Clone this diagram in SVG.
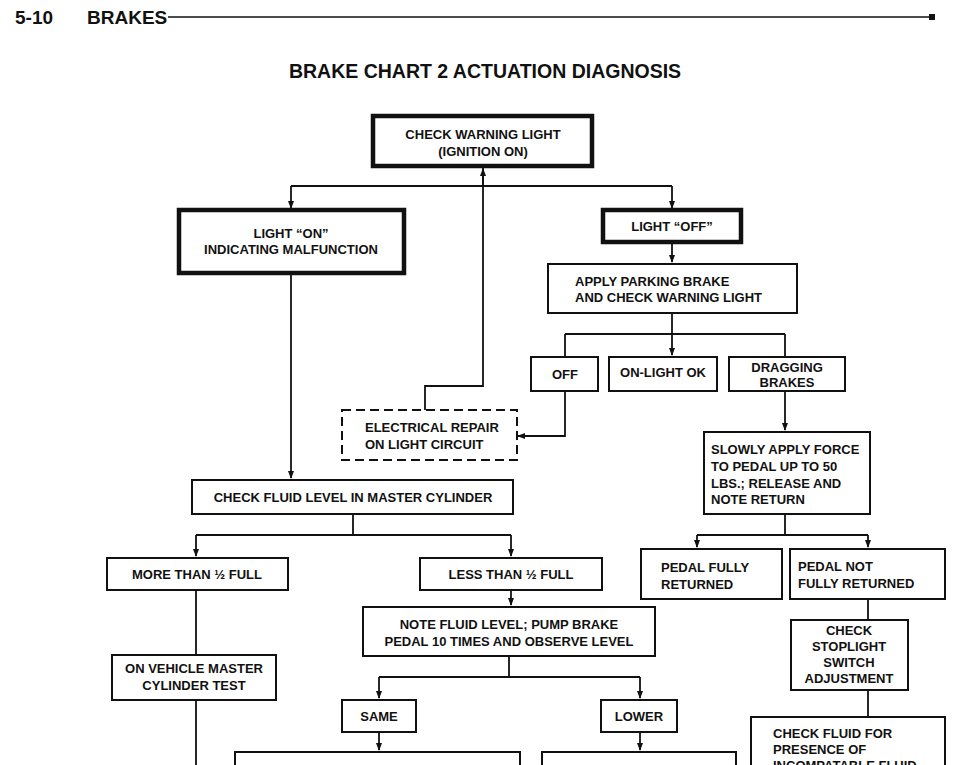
<svg xmlns="http://www.w3.org/2000/svg" width="969" height="765" viewBox="0 0 969 765">
<defs>
<marker id="ah" markerWidth="8" markerHeight="8" refX="7" refY="4" orient="auto" markerUnits="userSpaceOnUse"><path d="M0,1 L8,4 L0,7 Z" fill="#111"/></marker>
<style>
text{font-family:"Liberation Sans",Arial,sans-serif;font-weight:bold;font-size:13px;fill:#111}
.c{text-anchor:middle}
.b{fill:#fff;stroke:#111;stroke-width:2}
.t{fill:#fff;stroke:#111;stroke-width:4.5}
.d{fill:#fff;stroke:#111;stroke-width:2;stroke-dasharray:9,5}
#connectors path{fill:none;stroke:#111;stroke-width:1.8}
</style>
</defs>
<rect width="969" height="765" fill="#fff"/>
<g id="header">
<text x="15" y="24" style="font-size:19px">5-10</text>
<text x="87" y="24" style="font-size:19px">BRAKES</text>
<line x1="168" y1="17" x2="930" y2="17" stroke="#111" stroke-width="1.5"/>
<rect x="929" y="14" width="6" height="6" fill="#111"/>
<text class="c" x="485" y="78" style="font-size:19.5px">BRAKE CHART 2 ACTUATION DIAGNOSIS</text>
</g>
<g id="connectors">
<path d="M483,166 V186 M291,186 H672"/>
<path d="M291,186 V208" marker-end="url(#ah)"/>
<path d="M672,186 V208" marker-end="url(#ah)"/>
<path d="M672,242 V262" marker-end="url(#ah)"/>
<path d="M672,313 V334 M565,334 H785 M565,334 V357 M785,334 V357"/>
<path d="M672,334 V355" marker-end="url(#ah)"/>
<path d="M565,391 V436 H518" marker-end="url(#ah)"/>
<path d="M425,410 V386 H483 V169" marker-end="url(#ah)"/>
<path d="M291,273 V478" marker-end="url(#ah)"/>
<path d="M353,514 V535 H511 M196,535 H353"/>
<path d="M196,535 V556" marker-end="url(#ah)"/>
<path d="M511,535 V556" marker-end="url(#ah)"/>
<path d="M511,590 V605" marker-end="url(#ah)"/>
<path d="M196,590 V655 M196,700 V765"/>
<path d="M509,656 V677 M379,677 H640"/>
<path d="M379,677 V698" marker-end="url(#ah)"/>
<path d="M640,677 V698" marker-end="url(#ah)"/>
<path d="M379,732 V750" marker-end="url(#ah)"/>
<path d="M640,732 V750" marker-end="url(#ah)"/>
<path d="M785,391 V430" marker-end="url(#ah)"/>
<path d="M785,514 V535 M697,535 H868"/>
<path d="M697,535 V547" marker-end="url(#ah)"/>
<path d="M868,535 V547" marker-end="url(#ah)"/>
<path d="M868,599 V620 M868,690 V717"/>
</g>
<g id="n1"><rect class="t" x="373" y="116" width="219" height="50"/><text class="c" x="483" y="139">CHECK WARNING LIGHT</text><text class="c" x="483" y="156">(IGNITION ON)</text></g>
<g id="n2"><rect class="t" x="179" y="210" width="225" height="63"/><text class="c" x="291" y="238">LIGHT “ON”</text><text class="c" x="291" y="254">INDICATING MALFUNCTION</text></g>
<g id="n3"><rect class="t" x="603" y="210" width="138" height="32"/><text class="c" x="672" y="231">LIGHT “OFF”</text></g>
<g id="n4"><rect class="b" x="548" y="264" width="249" height="49"/><text x="575" y="286">APPLY PARKING BRAKE</text><text x="575" y="302">AND CHECK WARNING LIGHT</text></g>
<g id="n5"><rect class="b" x="531" y="357" width="67" height="34"/><text class="c" x="565" y="379">OFF</text></g>
<g id="n6"><rect class="b" x="609" y="357" width="108" height="34"/><text class="c" x="663" y="377">ON-LIGHT OK</text></g>
<g id="n7"><rect class="b" x="729" y="357" width="116" height="34"/><text class="c" x="787" y="372">DRAGGING</text><text class="c" x="787" y="387">BRAKES</text></g>
<g id="n8"><rect class="d" x="342" y="410" width="175" height="50"/><text x="365" y="432">ELECTRICAL REPAIR</text><text x="365" y="449">ON LIGHT CIRCUIT</text></g>
<g id="n9"><rect class="b" x="704" y="432" width="166" height="82"/><text x="711" y="454">SLOWLY APPLY FORCE</text><text x="711" y="471">TO PEDAL UP TO 50</text><text x="711" y="488">LBS.; RELEASE AND</text><text x="711" y="504">NOTE RETURN</text></g>
<g id="n10"><rect class="b" x="192" y="480" width="321" height="34"/><text class="c" x="353" y="502">CHECK FLUID LEVEL IN MASTER CYLINDER</text></g>
<g id="n11"><rect class="b" x="107" y="558" width="181" height="32"/><text class="c" x="197" y="579">MORE THAN ½ FULL</text></g>
<g id="n12"><rect class="b" x="420" y="558" width="182" height="32"/><text class="c" x="511" y="579">LESS THAN ½ FULL</text></g>
<g id="n13"><rect class="b" x="641" y="549" width="141" height="50"/><text x="661" y="572">PEDAL FULLY</text><text x="661" y="589">RETURNED</text></g>
<g id="n14"><rect class="b" x="790" y="549" width="155" height="50"/><text x="798" y="571">PEDAL NOT</text><text x="798" y="588">FULLY RETURNED</text></g>
<g id="n15"><rect class="b" x="363" y="607" width="292" height="49"/><text class="c" x="509" y="629">NOTE FLUID LEVEL; PUMP BRAKE</text><text class="c" x="509" y="646">PEDAL 10 TIMES AND OBSERVE LEVEL</text></g>
<g id="n16"><rect class="b" x="791" y="620" width="117" height="70"/><text class="c" x="849" y="635">CHECK</text><text class="c" x="849" y="651">STOPLIGHT</text><text class="c" x="849" y="667">SWITCH</text><text class="c" x="849" y="683">ADJUSTMENT</text></g>
<g id="n17"><rect class="b" x="112" y="655" width="164" height="45"/><text class="c" x="194" y="673">ON VEHICLE MASTER</text><text class="c" x="194" y="690">CYLINDER TEST</text></g>
<g id="n18"><rect class="b" x="342" y="700" width="74" height="32"/><text class="c" x="379" y="721">SAME</text></g>
<g id="n19"><rect class="b" x="601" y="700" width="76" height="32"/><text class="c" x="639" y="721">LOWER</text></g>
<g id="n20"><rect class="b" x="235" y="752" width="285" height="30"/></g>
<g id="n21"><rect class="b" x="542" y="752" width="194" height="30"/></g>
<g id="n22"><rect class="b" x="751" y="717" width="194" height="60"/><text x="773" y="738">CHECK FLUID FOR</text><text x="773" y="754">PRESENCE OF</text><text x="773" y="770">INCOMPATABLE FLUID</text></g>
</svg>
